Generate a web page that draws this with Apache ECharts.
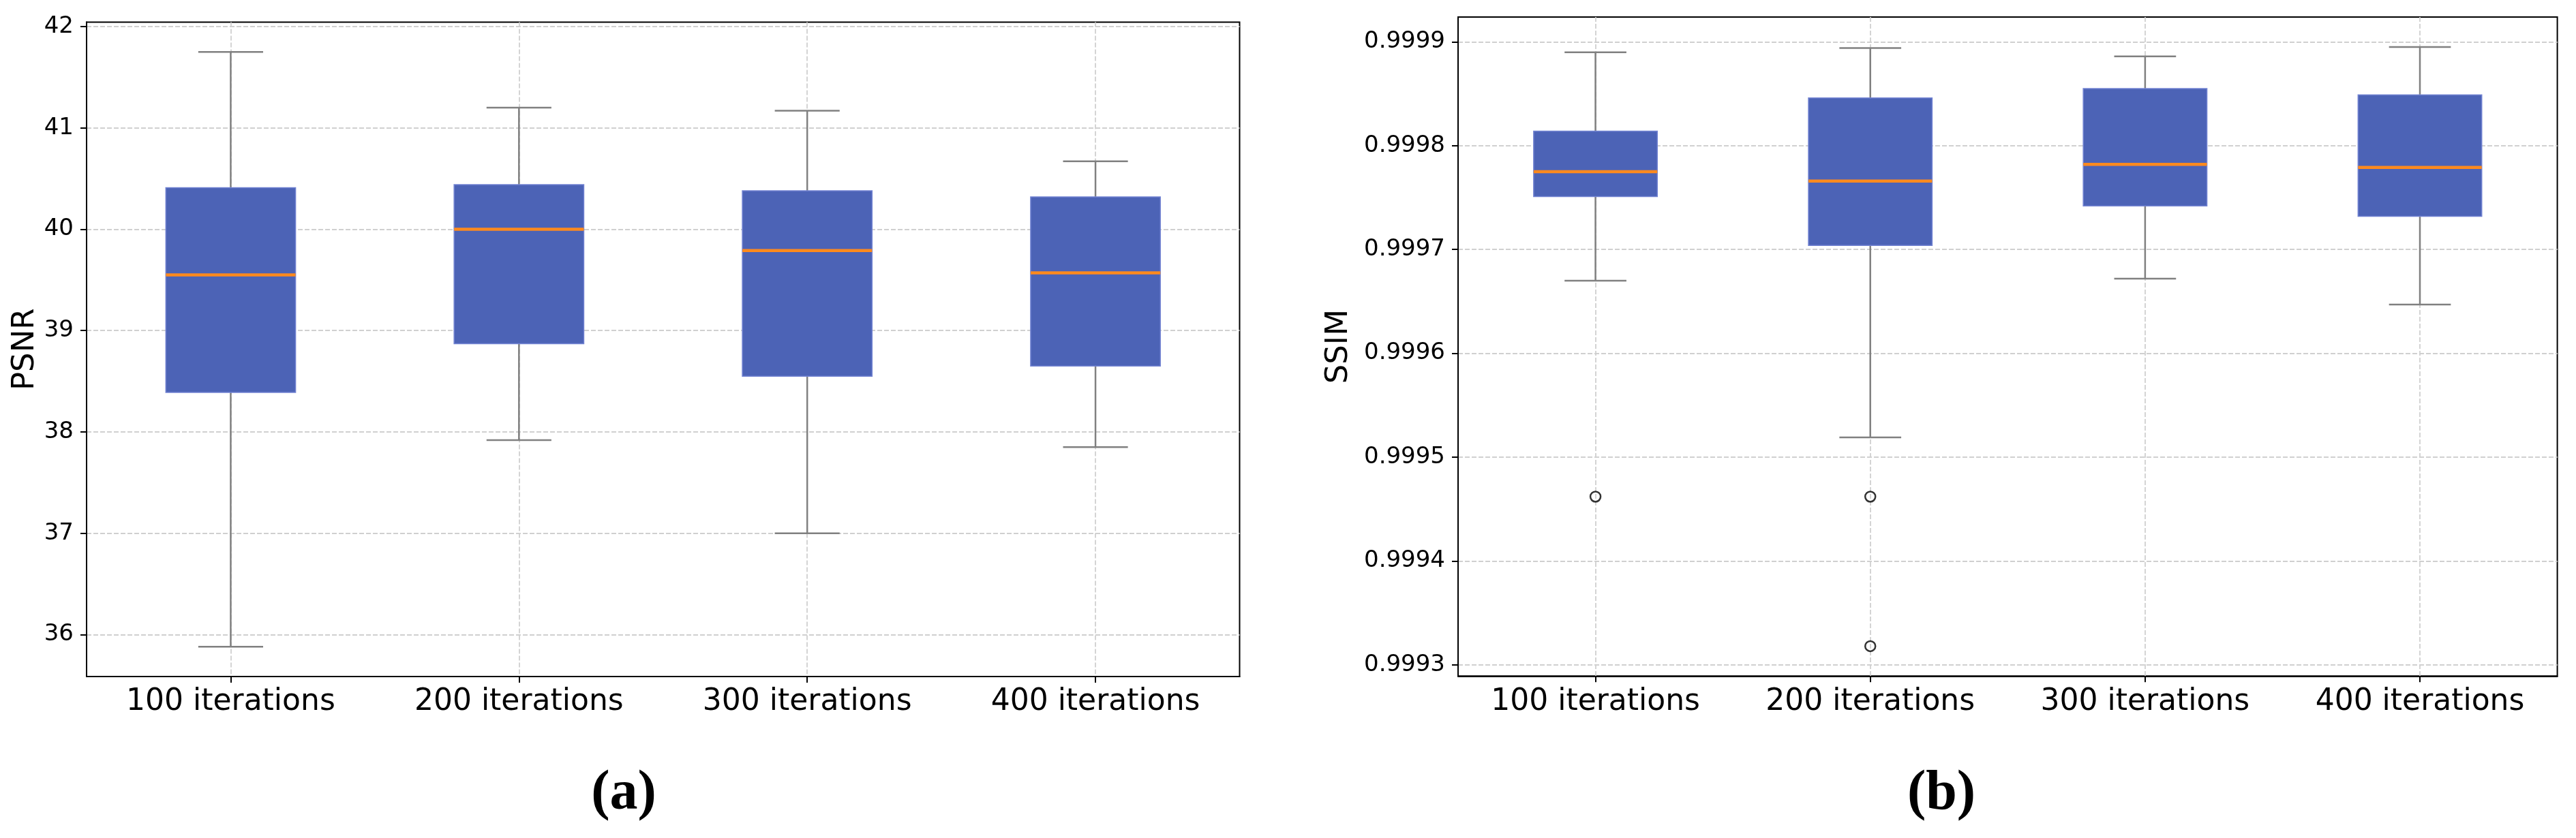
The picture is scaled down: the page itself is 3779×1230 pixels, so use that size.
<!DOCTYPE html>
<html>
<head>
<meta charset="utf-8">
<script src="https://cdn.jsdelivr.net/npm/echarts@6/dist/echarts.min.js"></script>
<style>
html,body{margin:0;padding:0;background:#fff;}
#chart{width:3779px;height:1230px;}
</style>
</head>
<body>
<div id="chart"></div>
<script>
// ---- data ----
const categories = ['100 iterations', '200 iterations', '300 iterations', '400 iterations'];
// [min whisker, Q1, median, Q3, max whisker]
const psnrBoxes = [
  [35.88, 38.39, 39.55, 40.41, 41.75],
  [37.92, 38.87, 40.00, 40.44, 41.20],
  [37.00, 38.55, 39.79, 40.38, 41.17],
  [37.85, 38.65, 39.57, 40.32, 40.67]
];
const ssimBoxes = [
  [0.999670, 0.999751, 0.999775, 0.999814, 0.999890],
  [0.999519, 0.999704, 0.999766, 0.999846, 0.999894],
  [0.999672, 0.999742, 0.999782, 0.999855, 0.999886],
  [0.999647, 0.999732, 0.999779, 0.999849, 0.999895]
];
// outliers: [category index, value]
const ssimOutliers = [[0, 0.999462], [1, 0.999462], [1, 0.999318]];
const psnrTicks = [36, 37, 38, 39, 40, 41, 42];
const ssimTicks = [0.9993, 0.9994, 0.9995, 0.9996, 0.9997, 0.9998, 0.9999];
const xTicks = [1, 2, 3, 4];

// ---- style ----
const FONT = 'DejaVu Sans';
const BOX_FILL = '#4c63b6';
const BOX_EDGE = '#7283d2';
const WHISKER = '#808080';
const MEDIAN = '#ff8a1e';
const GRID_COLOR = '#d0d0d0';

function boxRender(params, api) {
  const x = api.value(0);
  const vMin = api.value(1), q1 = api.value(2), med = api.value(3), q3 = api.value(4), vMax = api.value(5);
  const pMin = api.coord([x, vMin]);
  const pQ1 = api.coord([x, q1]);
  const pMed = api.coord([x, med]);
  const pQ3 = api.coord([x, q3]);
  const pMax = api.coord([x, vMax]);
  const w = api.size([0.45, 0])[0];
  const half = w / 2;
  const capHalf = w / 4;
  const cx = pMin[0];
  const ls = {stroke: WHISKER, lineWidth: 2.5};
  return {
    type: 'group',
    children: [
      {type: 'line', shape: {x1: cx, y1: pMin[1], x2: cx, y2: pQ1[1]}, style: ls},
      {type: 'line', shape: {x1: cx, y1: pQ3[1], x2: cx, y2: pMax[1]}, style: ls},
      {type: 'line', shape: {x1: cx - capHalf, y1: pMin[1], x2: cx + capHalf, y2: pMin[1]}, style: ls},
      {type: 'line', shape: {x1: cx - capHalf, y1: pMax[1], x2: cx + capHalf, y2: pMax[1]}, style: ls},
      {type: 'rect', shape: {x: cx - half, y: pQ3[1], width: w, height: pQ1[1] - pQ3[1]},
        style: {fill: BOX_FILL, stroke: BOX_EDGE, lineWidth: 1.5}},
      {type: 'line', shape: {x1: cx - half, y1: pMed[1], x2: cx + half, y2: pMed[1]},
        style: {stroke: MEDIAN, lineWidth: 4.5}}
    ]
  };
}

function xAxisCfg(gridIndex) {
  return {
    type: 'value', gridIndex: gridIndex, min: 0.5, max: 4.5,
    axisLine: {show: true, lineStyle: {color: '#000', width: 2}},
    axisTick: {show: true, length: 9, lineStyle: {color: '#000', width: 2}, customValues: xTicks},
    axisLabel: {color: '#000', fontFamily: FONT, fontSize: 44, margin: 16,
      customValues: xTicks, formatter: v => categories[Math.round(v) - 1]},
    splitLine: {show: true, lineStyle: {color: GRID_COLOR, width: 1.8, type: [7, 3]}}
  };
}

function yAxisCfg(gridIndex, min, max, ticks, name, nameGap, fmt) {
  return {
    type: 'value', gridIndex: gridIndex, min: min, max: max,
    name: name, nameLocation: 'middle', nameRotate: 90, nameGap: nameGap,
    nameTextStyle: {color: '#000', fontFamily: FONT, fontSize: 45},
    axisLine: {show: true, lineStyle: {color: '#000', width: 2}},
    axisTick: {show: true, length: 9, lineStyle: {color: '#000', width: 2}, customValues: ticks},
    axisLabel: {color: '#000', fontFamily: FONT, fontSize: 34, margin: 19,
      customValues: ticks, formatter: fmt},
    splitLine: {show: true, lineStyle: {color: GRID_COLOR, width: 1.8, type: [7, 3]}}
  };
}

const chart = echarts.init(document.getElementById('chart'), null, {renderer: 'canvas'});
chart.setOption({
  backgroundColor: '#fff',
  animation: false,
  textStyle: {fontFamily: FONT},
  grid: [
    {left: 127, top: 32.5, width: 1691.5, height: 960.5, show: true, borderColor: '#000', borderWidth: 2, backgroundColor: 'transparent'},
    {left: 2139, top: 25, width: 1612.6, height: 967.3, show: true, borderColor: '#000', borderWidth: 2, backgroundColor: 'transparent'}
  ],
  xAxis: [xAxisCfg(0), xAxisCfg(1)],
  yAxis: [
    yAxisCfg(0, 35.5865, 42.0435, psnrTicks, 'PSNR', 67, v => String(Math.round(v))),
    yAxisCfg(1, 0.9992892, 0.9999239, ssimTicks, 'SSIM', 152, v => v.toFixed(4))
  ],
  series: [
    {
      type: 'custom', xAxisIndex: 0, yAxisIndex: 0, renderItem: boxRender,
      encode: {x: 0, y: [1, 2, 3, 4, 5]},
      data: psnrBoxes.map((b, i) => [xTicks[i]].concat(b)), z: 3
    },
    {
      type: 'custom', xAxisIndex: 1, yAxisIndex: 1, renderItem: boxRender,
      encode: {x: 0, y: [1, 2, 3, 4, 5]},
      data: ssimBoxes.map((b, i) => [xTicks[i]].concat(b)), z: 3
    },
    {
      type: 'scatter', xAxisIndex: 1, yAxisIndex: 1, symbol: 'circle', symbolSize: 15,
      itemStyle: {color: 'rgba(0,0,0,0)', borderColor: '#000', borderWidth: 2.5},
      data: ssimOutliers.map(o => [xTicks[o[0]], o[1]]), z: 4
    }
  ],
  graphic: [
    {type: 'text', x: 915, y: 1166, style: {text: '(a)', font: 'bold 82px "Liberation Serif"', fill: '#000', textAlign: 'center', textVerticalAlign: 'middle'}},
    {type: 'text', x: 2848, y: 1166, style: {text: '(b)', font: 'bold 82px "Liberation Serif"', fill: '#000', textAlign: 'center', textVerticalAlign: 'middle'}}
  ]
});
</script>
</body>
</html>
